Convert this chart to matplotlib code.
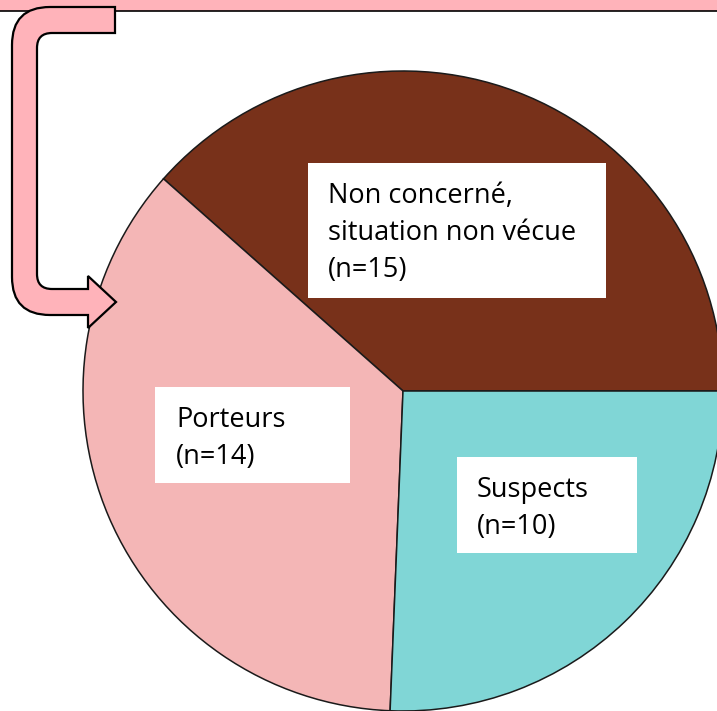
import matplotlib
matplotlib.use("Agg")
import matplotlib.pyplot as plt
from matplotlib.patches import Rectangle, PathPatch
from matplotlib.path import Path

# data
categories = ["Non concerné,\nsituation non vécue\n(n=15)", "Porteurs\n(n=14)", "Suspects\n(n=10)"]
counts = [15, 14, 10]
slice_colors = ["#78311a", "#f4b6b6", "#80d6d6"]

# label boxes (left, top, right, bottom in pixels from top-left) and text start
box_px = [(308, 163, 606, 298), (155, 387, 350, 483), (457, 457, 637, 553)]
text_px = [(328, 203), (176, 427), (477, 497)]
line_gap = 37

W, H = 717, 711
arrow_pink = "#ffb3ba"

fig = plt.figure(figsize=(W / 100, H / 100), dpi=100)
ax = fig.add_axes([0, 0, 1, 1])

ax.pie(counts, colors=slice_colors, startangle=0, counterclock=True,
       center=(403, H - 391), radius=320,
       wedgeprops=dict(edgecolor="#1a1a1a", linewidth=1.1))
ax.set_xlim(0, W)
ax.set_ylim(0, H)
ax.set_aspect("auto")
ax.axis("off")


def fy(y):
    return H - y


# white label boxes with text
for label, (l, t, r, b), (tx, ty) in zip(categories, box_px, text_px):
    ax.add_patch(Rectangle((l, fy(b)), r - l, b - t, facecolor="white",
                           edgecolor="none", zorder=5))
    for i, line in enumerate(label.split("\n")):
        ax.text(tx, fy(ty + i * line_gap), line, fontsize=19.5,
                family="Open Sans", color="black", va="baseline", ha="left",
                zorder=6)

# pink strip at the top
ax.add_patch(Rectangle((0, fy(11)), W, 11, facecolor=arrow_pink,
                       edgecolor="none", zorder=7))
ax.plot([0, W], [fy(11), fy(11)], color="black", lw=1.2, zorder=7)

# bent arrow on the left
pts = [
    ((115, 7), Path.MOVETO),
    ((115, 33), Path.LINETO),
    ((52, 33), Path.LINETO),
    ((37, 33), Path.CURVE3),
    ((37, 48), Path.CURVE3),
    ((37, 274), Path.LINETO),
    ((37, 289), Path.CURVE3),
    ((52, 289), Path.CURVE3),
    ((88, 289), Path.LINETO),
    ((88, 276), Path.LINETO),
    ((116, 302), Path.LINETO),
    ((88, 328), Path.LINETO),
    ((88, 315), Path.LINETO),
    ((50, 315), Path.LINETO),
    ((12, 315), Path.CURVE3),
    ((12, 277), Path.CURVE3),
    ((12, 45), Path.LINETO),
    ((12, 7), Path.CURVE3),
    ((50, 7), Path.CURVE3),
    ((115, 7), Path.CLOSEPOLY),
]
verts = [(x, fy(y)) for (x, y), _ in pts]
codes = [c for _, c in pts]
ax.add_patch(PathPatch(Path(verts, codes), facecolor=arrow_pink,
                       edgecolor="black", lw=1.6, zorder=8))

fig.savefig("out.png", dpi=100)
